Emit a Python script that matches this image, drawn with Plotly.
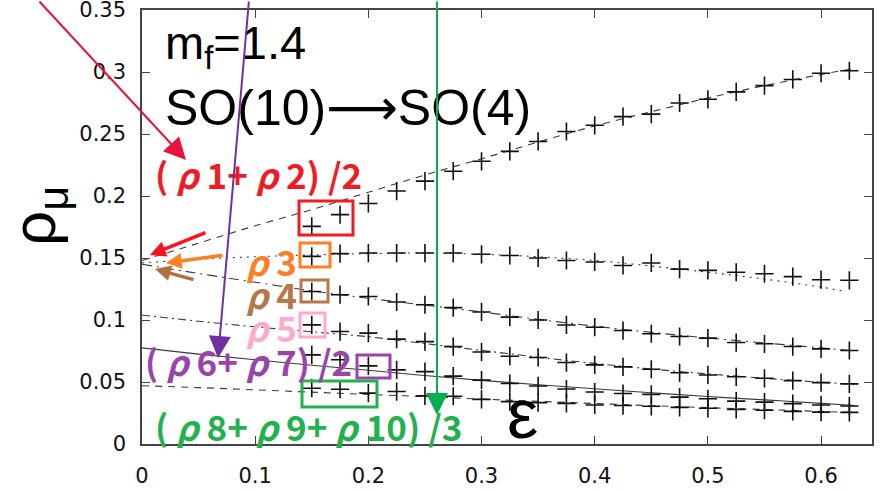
import plotly.graph_objects as go

# ---------------- data ----------------
eps = [0.15, 0.175, 0.2, 0.225, 0.25, 0.275, 0.3, 0.325, 0.35, 0.375,
       0.4, 0.425, 0.45, 0.475, 0.5, 0.525, 0.55, 0.575, 0.6, 0.625]

rho12 = [0.1755, 0.185, 0.194, 0.204, 0.212, 0.220, 0.228, 0.236, 0.244, 0.252,
         0.257, 0.264, 0.266, 0.275, 0.278, 0.284, 0.289, 0.294, 0.299, 0.301]
rho3 = [0.1513, 0.1535, 0.154, 0.154, 0.154, 0.154, 0.153, 0.152, 0.150, 0.148,
        0.1468, 0.1440, 0.146, 0.141, 0.140, 0.1385, 0.1373, 0.135, 0.1325, 0.132]
rho4 = [0.123, 0.1204, 0.119, 0.1145, 0.1123, 0.110, 0.1065, 0.1023, 0.100, 0.096,
        0.0942, 0.0915, 0.0889, 0.0867, 0.0854, 0.0818, 0.0808, 0.0786, 0.0767, 0.0754]
rho5 = [0.0961, 0.0907, 0.0894, 0.0846, 0.0826, 0.0785, 0.0742, 0.0708, 0.0698, 0.0657,
        0.0638, 0.0622, 0.0603, 0.0574, 0.0557, 0.0542, 0.053, 0.0511, 0.0495, 0.0485]
rho67 = [0.0719, 0.0679, 0.063, 0.0598, 0.0584, 0.0547, 0.0515, 0.0488, 0.0468, 0.0443,
         0.0419, 0.0407, 0.040, 0.0378, 0.0365, 0.0346, 0.0338, 0.0326, 0.0315, 0.0307]
rho8910 = [0.045, 0.0442, 0.041, 0.0423, 0.0388, 0.0385, 0.036, 0.0342, 0.0334, 0.0328,
           0.0315, 0.031, 0.0304, 0.0295, 0.0288, 0.0279, 0.0272, 0.0263, 0.0257, 0.0255]

# fitted curves
fit_eps = [0, 0.05, 0.1, 0.15, 0.2, 0.25, 0.3, 0.35, 0.4, 0.45, 0.5, 0.55, 0.6, 0.63]
fit_eps_rho3 = [0, 0.05, 0.1, 0.15, 0.2, 0.25, 0.3, 0.35, 0.4, 0.45, 0.5, 0.55, 0.6, 0.618]
fit_rho12 = [0.148, 0.162, 0.176, 0.189, 0.203, 0.217, 0.230, 0.2435, 0.2565, 0.268,
             0.279, 0.289, 0.298, 0.303]
fit_rho3 = [0.146, 0.149, 0.151, 0.1525, 0.1535, 0.154, 0.153, 0.151, 0.148, 0.1435,
            0.1385, 0.133, 0.1265, 0.1236]
fit_rho4 = [0.145, 0.1375, 0.1305, 0.1235, 0.1175, 0.112, 0.1065, 0.1005, 0.0950, 0.0900,
            0.0855, 0.0815, 0.0775, 0.0750]
fit_rho5 = [0.104, 0.099, 0.0945, 0.0905, 0.0865, 0.081, 0.0755, 0.070, 0.065, 0.0605,
            0.0565, 0.0530, 0.0498, 0.0480]
fit_rho67 = [0.0775, 0.0725, 0.068, 0.0635, 0.0595, 0.0552, 0.0513, 0.0478, 0.0445, 0.0413,
             0.0383, 0.0356, 0.0328, 0.031]
fit_rho8910 = [0.047, 0.0455, 0.0437, 0.0418, 0.040, 0.0382, 0.0362, 0.0344, 0.0326, 0.0309,
               0.0293, 0.0278, 0.0263, 0.0254]

x_ticks = [0, 0.1, 0.2, 0.3, 0.4, 0.5, 0.6]
x_tick_labels = ["0", "0.1", "0.2", "0.3", "0.4", "0.5", "0.6"]
y_ticks = [0, 0.05, 0.1, 0.15, 0.2, 0.25, 0.3, 0.35]
y_tick_labels = ["0", "0.05", "0.1", "0.15", "0.2", "0.25", "0.3", "0.35"]

# ---------------- layout helpers ----------------
W, H = 885, 492
ML, MR, MT, MB = 142, 13, 10, 48
PW, PH = W - ML - MR, H - MT - MB


def px(x):
    return (x - ML) / PW


def py(y):
    return (H - MB - y) / PH


fig = go.Figure()

line_col = "#3a3a3a"
fits = [
    (fit_eps, fit_rho12, "7px,6px"),
    (fit_eps_rho3, fit_rho3, "2px,5px"),
    (fit_eps, fit_rho4, "10px,5px,2px,5px"),
    (fit_eps, fit_rho5, "8px,4px,2px,4px"),
    (fit_eps, fit_rho67, "solid"),
    (fit_eps, fit_rho8910, "7px,6px"),
]
for fx, fy, dash in fits:
    fig.add_trace(go.Scatter(x=fx, y=fy, mode="lines", line_shape="spline",
                             line=dict(color=line_col, width=1.1, dash=dash),
                             showlegend=False, hoverinfo="skip"))

for ys in [rho12, rho3, rho4, rho5, rho67, rho8910]:
    fig.add_trace(go.Scatter(x=eps, y=ys, mode="markers", showlegend=False,
                             marker=dict(symbol="cross-thin", size=13,
                                         line=dict(width=1.6, color="#111111"))))

axis_common = dict(showgrid=False, zeroline=False, showline=True, mirror="ticks",
                   linecolor="#444444", linewidth=1.5, ticks="inside", ticklen=8,
                   tickwidth=1, tickcolor="#444444", automargin=False,
                   ticklabeloverflow="allow",
                   tickfont=dict(family="DejaVu Sans", size=21, color="#111111"))

fig.update_xaxes(range=[0, 0.645], tickvals=x_ticks, ticktext=x_tick_labels,
                 ticklabelstandoff=12, **axis_common)
fig.update_yaxes(range=[0, 0.35], tickvals=y_ticks, ticktext=y_tick_labels,
                 ticklabelstandoff=10, **axis_common)

annotations = []
shapes = []

# big texts
annotations.append(dict(x=px(163), y=py(46), xref="paper", yref="paper", xanchor="left",
                        yanchor="middle", showarrow=False, text="m<sub>f</sub>=1.4",
                        font=dict(family="Liberation Sans", size=47, color="black")))
annotations.append(dict(x=px(163), y=py(108), xref="paper", yref="paper", xanchor="left",
                        yanchor="middle", showarrow=False,
                        text="SO(10)<span style='font-family:DejaVu Sans'>⟶</span>SO(4)",
                        font=dict(family="Liberation Sans", size=50, color="black")))
annotations.append(dict(x=px(522), y=py(414), xref="paper", yref="paper", xanchor="center",
                        yanchor="middle", showarrow=False, text="ε",
                        font=dict(family="Liberation Sans", size=70, color="black")))
annotations.append(dict(x=px(38), y=py(216), xref="paper", yref="paper", xanchor="center",
                        yanchor="middle", showarrow=False, text="ρ<sub>μ</sub>", textangle=-90,
                        font=dict(family="Liberation Sans", size=62, color="black")))

lab_font = "Noto Sans CJK JP"
labels = [
    ("( <i>ρ</i> 1+ <i>ρ</i> 2) /2", 153, 173, "#f01c24"),
    ("<i>ρ</i> 3", 244, 260, "#ff7f27"),
    ("<i>ρ</i> 4", 244, 293, "#b4784a"),
    ("<i>ρ</i> 5", 244, 326, "#ffaac9"),
    ("( <i>ρ</i> 6+ <i>ρ</i> 7) /2", 143, 360, "#9a44aa"),
    ("( <i>ρ</i> 8+ <i>ρ</i> 9+ <i>ρ</i> 10) /3", 153, 425, "#22b14c"),
]
for t, x0, y0, c in labels:
    annotations.append(dict(x=px(x0), y=py(y0), xref="paper", yref="paper", xanchor="left",
                            yanchor="middle", showarrow=False, text="<b>" + t + "</b>",
                            font=dict(family=lab_font, size=35, color=c)))

# boxes
boxes = [
    (299, 201, 353, 235, "#ee1c24"),
    (300, 243, 330, 267, "#ff7f27"),
    (301, 280, 328, 302, "#b4784a"),
    (300, 313, 325, 337, "#ffaac9"),
    (357, 355, 390, 378, "#9a44aa"),
    (302, 381, 377, 407, "#22b14c"),
]
for x0, y0, x1, y1, c in boxes:
    shapes.append(dict(type="rect", xref="paper", yref="paper", x0=px(x0), x1=px(x1),
                       y0=py(y1), y1=py(y0), line=dict(color=c, width=3)))

# arrows: (head x, head y, tail x, tail y, color, width, head size)
arrows = [
    (186, 160, 38, -4, "#e8143c", 2, 2.2),
    (218, 358, 249, -4, "#7030a0", 2, 2.2),
    (437, 415, 437, -4, "#00b050", 2, 2.2),
    (150, 255, 207, 232, "#ff1020", 3.5, 0.9),
    (166, 263, 224, 255, "#ff8020", 3.5, 0.9),
    (155, 269, 195, 280, "#b07040", 3.5, 0.9),
]
for hx, hy, tx, ty, c, w, s in arrows:
    annotations.append(dict(x=px(hx), y=py(hy), xref="paper", yref="paper",
                            ax=tx - hx, ay=ty - hy, axref="pixel", ayref="pixel",
                            text="", showarrow=True, arrowhead=2, arrowsize=s,
                            arrowwidth=w, arrowcolor=c))

fig.update_layout(width=W, height=H, margin=dict(l=ML, r=MR, t=MT, b=MB, autoexpand=False),
                  paper_bgcolor="white", plot_bgcolor="white",
                  annotations=annotations, shapes=shapes)

fig.write_html("out.html", config={"displayModeBar": False},
               post_script="document.body.style.margin='0';document.body.style.overflow='hidden';")
